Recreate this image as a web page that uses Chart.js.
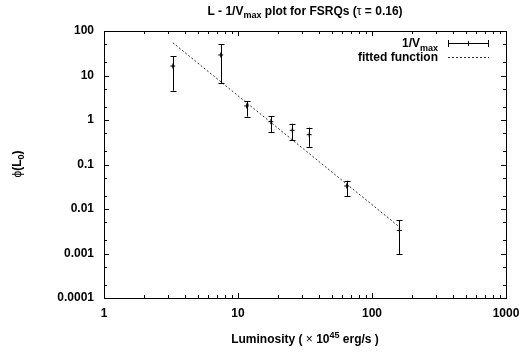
<!DOCTYPE html>
<html><head><meta charset="utf-8">
<script src="https://cdn.jsdelivr.net/npm/chart.js@4"></script>
<style>html,body{margin:0;padding:0;background:#fff}#wrap{width:524px;height:353px}</style>
</head><body><div id="wrap"><canvas id="c" width="524" height="353"></canvas></div>
<script>
// Data
const luminosity = [3.26, 7.43, 11.6, 17.6, 25.4, 34.0, 64.7, 160];
const phi        = [16.3, 28.9, 2.07, 0.916, 0.587, 0.468, 0.0329, 0.0033];
const phiLow     = [4.55, 6.7, 1.19, 0.537, 0.35, 0.251, 0.0196, 0.00096];
const phiHigh    = [27.4, 51, 2.67, 1.23, 0.826, 0.671, 0.0432, 0.0056];
const fitL       = [3.26, 157];
const fitPhi     = [54.6, 0.00415];
const xTicks     = [1, 10, 100, 1000];
const xTickLabels = ['1', '10', '100', '1000'];
const yTicks     = [0.0001, 0.001, 0.01, 0.1, 1, 10, 100];
const yTickLabels = ['0.0001', '0.001', '0.01', '0.1', '1', '10', '100'];

const FONT = '"Liberation Sans", Arial, sans-serif';

function drawRich(ctx, segs, x, y, align) {
  // segs: [{t, dy, size, weight}]
  let w = 0;
  segs.forEach(s => { ctx.font = `${s.weight||'bold'} ${s.size}px ${FONT}`; s.w = ctx.measureText(s.t).width; w += s.w; });
  let cx = align === 'right' ? x - w : align === 'center' ? x - w / 2 : x;
  ctx.textAlign = 'left';
  ctx.textBaseline = 'alphabetic';
  segs.forEach(s => { ctx.font = `${s.weight||'bold'} ${s.size}px ${FONT}`; ctx.fillText(s.t, cx, y + (s.dy||0)); cx += s.w; });
}

const decor = {
  id: 'decor',
  afterDraw(chart) {
    const ctx = chart.ctx, a = chart.chartArea;
    const xs = chart.scales.x, ys = chart.scales.y;
    ctx.save();
    ctx.strokeStyle = '#000'; ctx.lineWidth = 1;
    // frame
    ctx.strokeRect(Math.round(a.left) + 0.5, Math.round(a.top) + 0.5, Math.round(a.right - a.left), Math.round(a.bottom - a.top));
    // x ticks
    ctx.beginPath();
    for (let d = 1; d < 1000; d *= 10) {
      for (let m = 1; m <= 10; m++) {
        const v = d * m; const px = Math.round(xs.getPixelForValue(v)) + 0.5;
        const len = (m === 1 || m === 10) ? 5 : 3;
        ctx.moveTo(px, a.bottom); ctx.lineTo(px, a.bottom - len);
        ctx.moveTo(px, a.top); ctx.lineTo(px, a.top + len);
      }
    }
    // y ticks (major decades, minor at 2 and 5)
    for (let d = 0.0001; d < 100; d *= 10) {
      [1, 2, 5, 10].forEach(m => {
        const v = d * m; const py = Math.round(ys.getPixelForValue(v)) + 0.5;
        const len = (m === 1 || m === 10) ? 5 : 3;
        ctx.moveTo(a.left, py); ctx.lineTo(a.left + len, py);
        ctx.moveTo(a.right, py); ctx.lineTo(a.right - len, py);
      });
    }
    ctx.stroke();

    // error bars
    ctx.beginPath();
    luminosity.forEach((L, i) => {
      const px = Math.round(xs.getPixelForValue(L)) + 0.5;
      const yl = ys.getPixelForValue(phiLow[i]), yh = ys.getPixelForValue(phiHigh[i]);
      ctx.moveTo(px, yl); ctx.lineTo(px, yh);
      ctx.moveTo(px - 3, Math.round(yl) + 0.5); ctx.lineTo(px + 3, Math.round(yl) + 0.5);
      ctx.moveTo(px - 3, Math.round(yh) + 0.5); ctx.lineTo(px + 3, Math.round(yh) + 0.5);
    });
    ctx.stroke();

    ctx.fillStyle = '#000';
    // title
    drawRich(ctx, [
      {t: 'L - 1/V', size: 12},
      {t: 'max', size: 9, dy: 3},
      {t: ' plot for FSRQs (', size: 12},
      {t: 'τ', size: 12, weight: 'normal'},
      {t: ' = 0.16)', size: 12}
    ], 305, 15, 'center');
    // x title
    drawRich(ctx, [
      {t: 'Luminosity ( ', size: 12},
      {t: '×', size: 12, weight: 'normal'},
      {t: ' 10', size: 12},
      {t: '45', size: 9, dy: -5},
      {t: ' erg/s )', size: 12}
    ], 305, 343, 'center');
    // y title
    ctx.save();
    ctx.translate(21, 164); ctx.rotate(-Math.PI / 2);
    drawRich(ctx, [
      {t: 'ϕ', size: 12, weight: 'normal'},
      {t: '(L', size: 12},
      {t: '0', size: 9, dy: 3},
      {t: ')', size: 12}
    ], 0, 0, 'center');
    ctx.restore();

    // legend
    drawRich(ctx, [{t: '1/V', size: 12}, {t: 'max', size: 9, dy: 4}], 438, 47, 'right');
    drawRich(ctx, [{t: 'fitted function', size: 12}], 438, 61, 'right');
    ctx.beginPath();
    ctx.moveTo(448, 43.5); ctx.lineTo(489, 43.5);
    ctx.moveTo(448.5, 40); ctx.lineTo(448.5, 47);
    ctx.moveTo(488.5, 40); ctx.lineTo(488.5, 47);
    ctx.moveTo(468.5, 41); ctx.lineTo(468.5, 46);
    ctx.stroke();
    ctx.setLineDash([2, 2]);
    ctx.strokeStyle = '#333';
    ctx.beginPath();
    ctx.moveTo(448, 57.5); ctx.lineTo(489, 57.5);
    ctx.stroke();
    ctx.restore();
  }
};

new Chart(document.getElementById('c'), {
  type: 'scatter',
  data: {
    datasets: [
      {
        label: '1/Vmax',
        data: luminosity.map((L, i) => ({x: L, y: phi[i]})),
        pointStyle: 'cross', pointRadius: 2.5, borderColor: '#000', borderWidth: 1,
        backgroundColor: '#000', showLine: false
      },
      {
        label: 'fitted function',
        data: fitL.map((L, i) => ({x: L, y: fitPhi[i]})),
        showLine: true, borderColor: '#333', borderWidth: 1, borderDash: [2, 2],
        pointRadius: 0, fill: false
      }
    ]
  },
  options: {
    responsive: false, animation: false, devicePixelRatio: 1,
    layout: {padding: {left: 0, right: 18, top: 31, bottom: 0}},
    plugins: {legend: {display: false}, tooltip: {enabled: false}, title: {display: false}},
    scales: {
      x: {
        type: 'logarithmic', min: 1, max: 1000, position: 'bottom',
        grid: {display: false, drawTicks: false}, border: {display: false},
        afterBuildTicks: s => { s.ticks = xTicks.map(v => ({value: v})); },
        afterFit: s => { s.height = 55; s.paddingLeft = 0; s.paddingRight = 0; },
        ticks: {
          autoSkip: false, maxRotation: 0, color: '#000', padding: 8,
          font: {family: FONT, size: 12, weight: 'bold'},
          callback: v => { const i = xTicks.indexOf(v); return i >= 0 ? xTickLabels[i] : ''; }
        }
      },
      y: {
        type: 'logarithmic', min: 0.0001, max: 100,
        grid: {display: false, drawTicks: false}, border: {display: false},
        afterBuildTicks: s => { s.ticks = yTicks.map(v => ({value: v})); },
        afterFit: s => { s.width = 104; s.paddingTop = 0; s.paddingBottom = 0; },
        ticks: {
          autoSkip: false, color: '#000', padding: 10,
          font: {family: FONT, size: 12, weight: 'bold'},
          callback: v => { const i = yTicks.findIndex(t => Math.abs(Math.log10(t) - Math.log10(v)) < 1e-6); return i >= 0 ? yTickLabels[i] : ''; }
        }
      }
    }
  },
  plugins: [decor]
});
</script>
</body></html>
